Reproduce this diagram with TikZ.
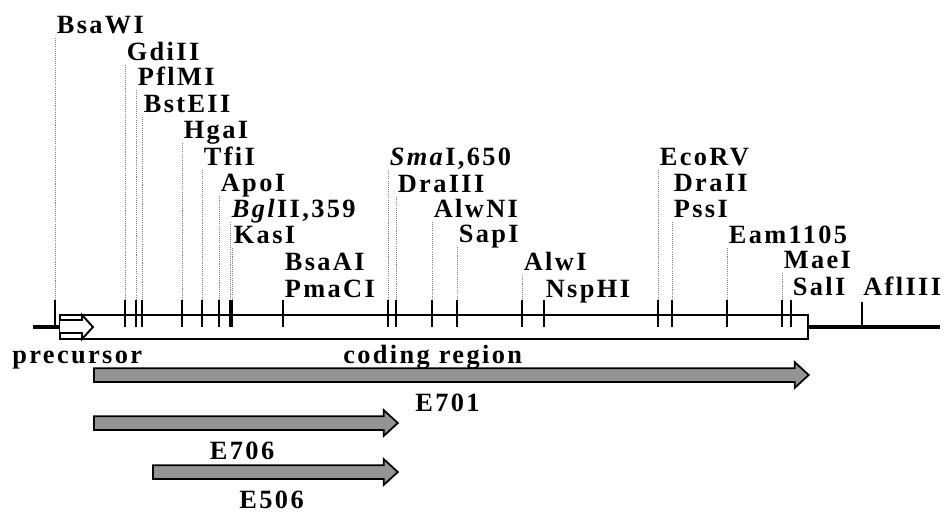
\documentclass[tikz,border=0pt]{standalone}
\usepackage{fontspec}
\setmainfont{Liberation Serif}[LetterSpace=9]
\usetikzlibrary{shapes.arrows,positioning}
\tikzset{
  site/.style={
    font=\fontsize{15}{16}\selectfont\bfseries,
    inner sep=0pt,
    anchor=base west
  },
  leader/.style={
    gray,
    line width=0.35pt,
    dash pattern=on 0.6pt off 0.6pt
  },
  cut/.style={
    line width=0.7pt
  },
  dna/.style={
    line width=2.8pt
  },
  frame/.style={
    line width=1.1pt,
    fill=white
  },
  cds/.style={
    single arrow,
    draw,
    line width=1pt,
    fill=black!42,
    inner xsep=0pt,
    inner ysep=0.12cm,
    single arrow head extend=0.12cm,
    single arrow tip angle=85,
    anchor=tail
  },
}

\begin{document}
\begin{tikzpicture}[x=0.02cm,y=-0.02cm]
\useasboundingbox (0,0) rectangle (946,512);
% backbone and gene box
\draw[dna] (33,327) -- (60,327);
\draw[dna] (808,327) -- (940,327);
\draw[frame] (60,315) rectangle (808,339);
\draw[frame] (60,320) -- (82,320) -- (82,315) -- (93,327) -- (82,339) -- (82,333) -- (60,333);
% restriction sites
\foreach \x/\y/\t/\n in {55/33/BsaWI/bsawi, 125/60/GdiII/gdiii, 136/85/PflMI/pflmi,
    142/112/BstEII/bsteii, 182/138/HgaI/hgai, 202/165/TfiI/tfii, 219/191/ApoI/apoi,
    230/217/{\textit{Bgl}II,359}/bglii, 232/243/KasI/kasi, 283/297/PmaCI/pmaci,
    388/165/{\textit{Sma}I,650}/smai, 396/192/DraIII/draiii, 432/217/AlwNI/alwni,
    457/242/SapI/sapi, 522/270/AlwI/alwi, 544/297/NspHI/nsphi, 658/165/EcoRV/ecorv,
    672/217/PssI/pssi, 727/243/Eam1105/eam, 782/268/MaeI/maei, 791/295/SalI/sali}{
  \node[site] (\n) at (\x+1.5,\y) {\t};
  \coordinate (\n-top) at (\x,\y+5);
  \coordinate (\n-cut) at (\x,300);
  \draw[leader] (\n-top) -- (\n-cut);
  \draw[cut] (\n-cut) -- ++(0,27);
}
\node[site] (bsaai) at (284.5,270) {BsaAI};
\node[site] (draii) at (673.5,191) {DraII};
\node[site] (afliii) at (863,295) {AflIII};
\coordinate (afliii-cut) at (862,302);
\draw[cut] (afliii-cut) -- ++(0,25);
% regions and clones
\node[site] (prec) at (12,363) {precursor};
\node[site] (coding) at (343,363) {coding region};
\node[cds, minimum height=14.3cm] (e701) at (93,375) {};
\node[cds, minimum height=6.08cm] (e706) at (93,423) {};
\node[cds, minimum height=4.9cm] (e506) at (152,472) {};
\foreach \n/\t in {e701/E701, e706/E706, e506/E506}
  \node[site, anchor=base] (\n-l) at ([yshift=-0.58cm]\n.south) {\t};
\end{tikzpicture}
\end{document}
